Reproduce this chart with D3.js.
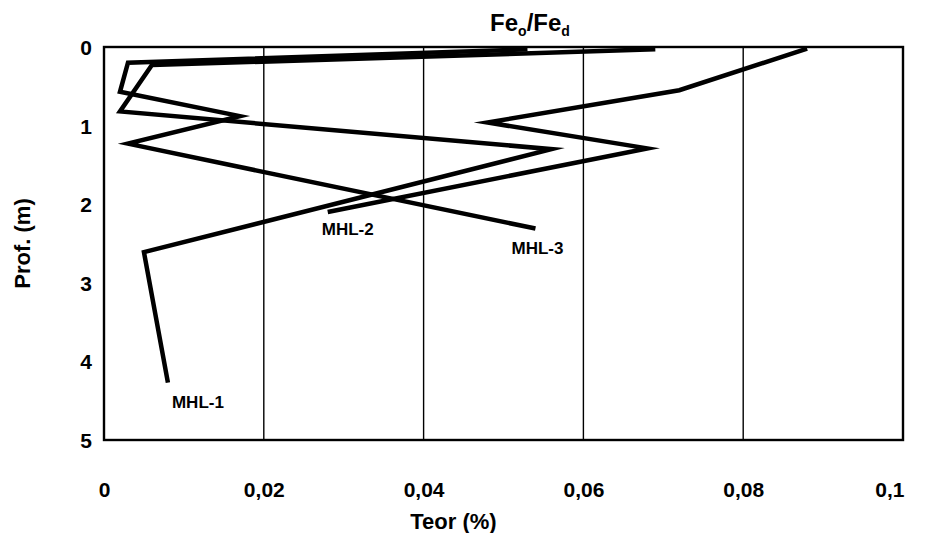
<!DOCTYPE html>
<html>
<head>
<meta charset="utf-8">
<script src="https://cdn.jsdelivr.net/npm/d3@7"></script>
<style>
  html, body { margin: 0; padding: 0; background: #fff; }
  svg { display: block; }
  text { font-family: "Liberation Sans", Arial, sans-serif; font-weight: bold; fill: #000; }
</style>
</head>
<body>
<svg id="chart" width="926" height="533"></svg>
<script>
// ---- data ----
const seriesNames = ["MHL-1", "MHL-2", "MHL-3"];
const depthMHL1 = [0.03, 0.23, 0.82, 1.30, 2.61, 4.27];
const teorMHL1  = [0.069, 0.006, 0.002, 0.056, 0.005, 0.008];
const depthMHL2 = [0.02, 0.55, 0.96, 1.29, 2.10];
const teorMHL2  = [0.088, 0.072, 0.048, 0.068, 0.028];
const depthMHL3 = [0.03, 0.20, 0.57, 0.88, 1.23, 2.31];
const teorMHL3  = [0.053, 0.003, 0.002, 0.017, 0.003, 0.054];
const xTicks = [0, 0.02, 0.04, 0.06, 0.08, 0.1];
const xTickLabels = ["0", "0,02", "0,04", "0,06", "0,08", "0,1"];
const yTicks = [0, 1, 2, 3, 4, 5];
const yTickLabels = ["0", "1", "2", "3", "4", "5"];

(function () {
const svg = d3.select("#chart");
const pL = 104, pR = 903, pT = 47, pB = 440;
const x = d3.scaleLinear().domain([0, 0.1]).range([pL, pR]);
const y = d3.scaleLinear().domain([0, 5]).range([pT, pB]);

// vertical gridlines
svg.append("g").selectAll("line")
  .data(xTicks.slice(1, -1))
  .join("line")
  .attr("x1", d => x(d)).attr("x2", d => x(d))
  .attr("y1", pT).attr("y2", pB)
  .attr("stroke", "#000").attr("stroke-width", 1.4);

// plot border
svg.append("rect")
  .attr("x", pL).attr("y", pT)
  .attr("width", pR - pL).attr("height", pB - pT)
  .attr("fill", "none").attr("stroke", "#000").attr("stroke-width", 2.4);

// x axis labels
const xAxis = d3.axisBottom(x).tickValues(xTicks)
  .tickFormat((d, i) => xTickLabels[i]).tickSize(0).tickPadding(0);
const gx = svg.append("g").attr("transform", `translate(0,${pB + 57})`).call(xAxis);
gx.select(".domain").remove();
gx.selectAll("text").attr("font-size", 21).attr("dy", "0").attr("font-family", "Liberation Sans, Arial, sans-serif").attr("font-weight", "bold").attr("fill", "#000");
gx.selectAll("text").filter((d, i) => i === xTicks.length - 1).attr("text-anchor", "end").attr("dx", 1);

// y axis labels
const yAxis = d3.axisLeft(y).tickValues(yTicks)
  .tickFormat((d, i) => yTickLabels[i]).tickSize(0).tickPadding(0);
const gy = svg.append("g").attr("transform", `translate(${pL - 12},0)`).call(yAxis);
gy.select(".domain").remove();
gy.selectAll("text").attr("font-size", 21).attr("dy", "0.36em").attr("font-family", "Liberation Sans, Arial, sans-serif").attr("font-weight", "bold").attr("fill", "#000");

// series lines
const series = [
  { name: seriesNames[0], depth: depthMHL1, teor: teorMHL1, dx: 30, dy: 25 },
  { name: seriesNames[1], depth: depthMHL2, teor: teorMHL2, dx: 20, dy: 23 },
  { name: seriesNames[2], depth: depthMHL3, teor: teorMHL3, dx: 2, dy: 25 }
];
const line = d3.line().x(d => x(d[0])).y(d => y(d[1]));
svg.append("g").selectAll("path")
  .data(series)
  .join("path")
  .attr("d", s => line(s.teor.map((t, i) => [t, s.depth[i]])))
  .attr("fill", "none").attr("stroke", "#000")
  .attr("stroke-width", 4.5).attr("stroke-linejoin", "miter").attr("stroke-miterlimit", 10);

// series labels at the end of each line
svg.append("g").selectAll("text")
  .data(series)
  .join("text")
  .attr("x", s => x(s.teor[s.teor.length - 1]) + s.dx)
  .attr("y", s => y(s.depth[s.depth.length - 1]) + s.dy)
  .attr("text-anchor", "middle")
  .attr("font-size", 17)
  .text(s => s.name);

// title
const title = svg.append("text").attr("x", 530).attr("y", 31)
  .attr("text-anchor", "middle").attr("font-size", 24);
title.append("tspan").text("Fe");
title.append("tspan").attr("font-size", 14).attr("dy", 5).text("o");
title.append("tspan").attr("dy", -5).text("/Fe");
title.append("tspan").attr("font-size", 14).attr("dy", 5).text("d");

// axis titles
svg.append("text").attr("x", (pL + pR) / 2 - 50).attr("y", 529)
  .attr("text-anchor", "middle").attr("font-size", 22).text("Teor (%)");
svg.append("text")
  .attr("transform", `translate(30,${(pT + pB) / 2}) rotate(-90)`)
  .attr("text-anchor", "middle").attr("font-size", 22).text("Prof. (m)");
})();
</script>
</body>
</html>
